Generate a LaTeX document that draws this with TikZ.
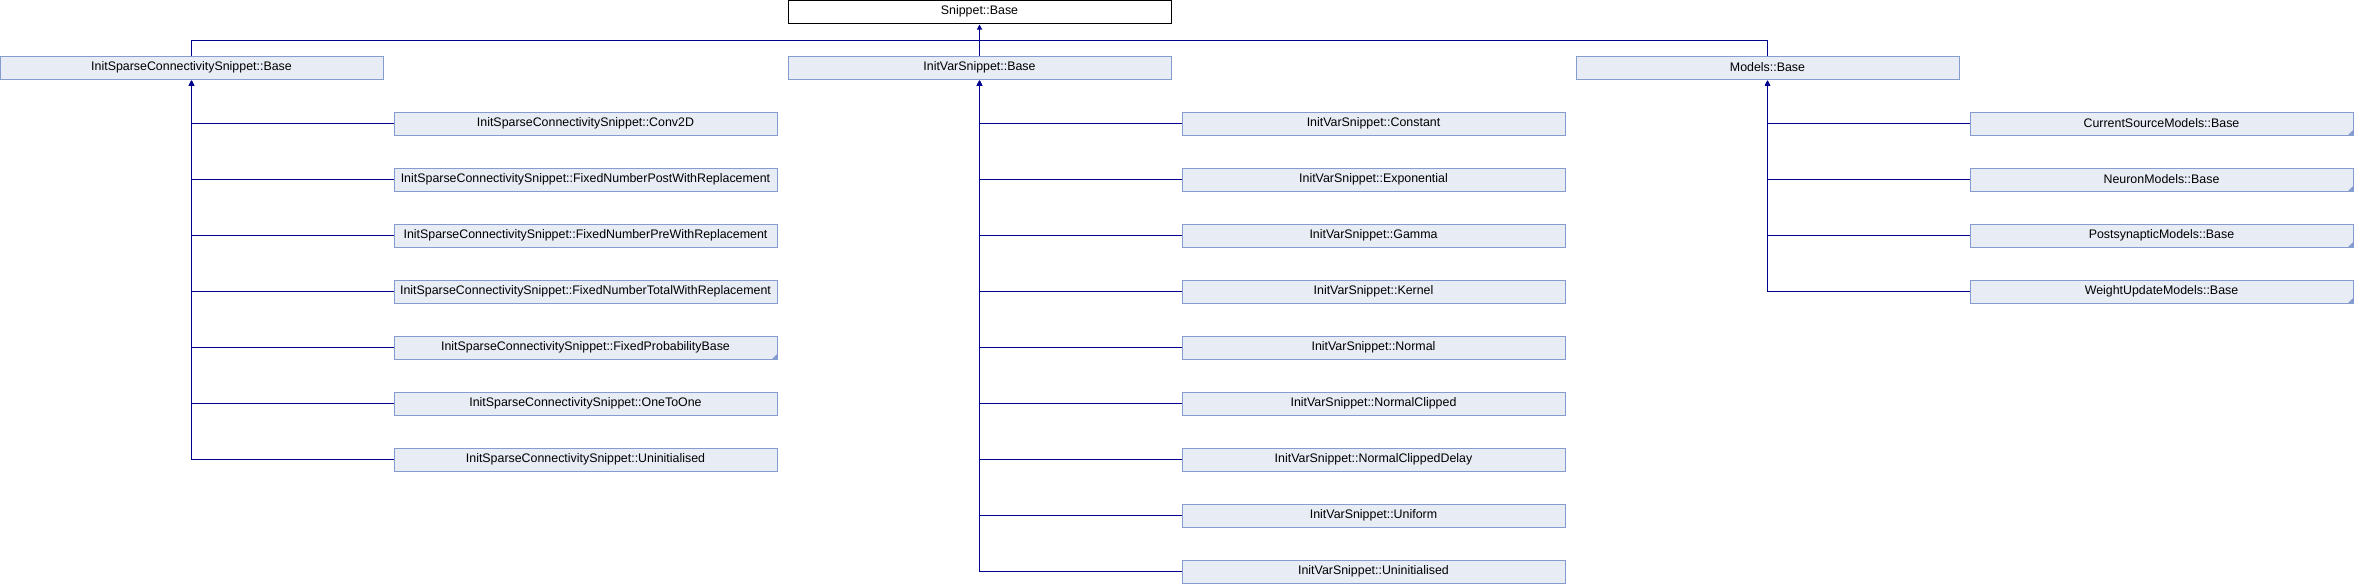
\documentclass[tikz,border=0pt]{standalone}
\usepackage{fontspec}
\setmainfont{Liberation Sans}
\usetikzlibrary{arrows.meta}

\begin{document}
\begin{tikzpicture}[x=1pt, y=-1pt]
    \definecolor{boxfill}{RGB}{232,236,244}
\definecolor{boxborder}{RGB}{132,156,208}
\definecolor{link}{RGB}{0,0,140}

\newcommand\boxwidth{383}
\newcommand\boxheight{23}

\tikzset{
    class/.style={
        draw=boxborder, fill=boxfill, line width=1pt,
        rectangle, inner sep=0pt,
        minimum width=\boxwidth pt,
        minimum height=\boxheight pt,
        font=\fontsize{12.4}{14}\selectfont,
    },
    root/.style={class, draw=black, fill=white},
    wire/.style={link, line width=1pt},
    inherit/.style={
        wire,
        -{Triangle[length=5pt, width=5pt]},
        shorten >=1pt,
    },
    more/.style={fill=boxborder},
}

\useasboundingbox (0, 0) rectangle (2354, 584);

% top of the tree
\node[root] at (979.5, 11.5) (snippet) {Snippet::Base};

\node[class] at (191.5, 67.5) (iscBase) {InitSparseConnectivitySnippet::Base};
\node[class] at (979.5, 67.5) (ivBase) {InitVarSnippet::Base};
\node[class] at (1767.5, 67.5) (modelsBase) {Models::Base};

\coordinate (bar) at (979.5, 40);

\draw[wire] (iscBase.north) |- (bar);
\draw[wire] (modelsBase.north) |- (bar);
\draw[inherit] (ivBase.north) -- (snippet.south);

% InitSparseConnectivitySnippet
\node[class] at (585.5, 123.5) (iscConv) {InitSparseConnectivitySnippet::Conv2D};
\node[class] at (585.5, 179.5) (iscPost) {InitSparseConnectivitySnippet::FixedNumberPostWithReplacement};
\node[class] at (585.5, 235.5) (iscPre) {InitSparseConnectivitySnippet::FixedNumberPreWithReplacement};
\node[class] at (585.5, 291.5) (iscTotal) {InitSparseConnectivitySnippet::FixedNumberTotalWithReplacement};
\node[class] at (585.5, 347.5) (iscProb) {InitSparseConnectivitySnippet::FixedProbabilityBase};
\node[class] at (585.5, 403.5) (iscOne) {InitSparseConnectivitySnippet::OneToOne};
\node[class] at (585.5, 459.5) (iscUninit) {InitSparseConnectivitySnippet::Uninitialised};

\draw[inherit] (iscConv.west) -| (iscBase.south);
\draw[inherit] (iscPost.west) -| (iscBase.south);
\draw[inherit] (iscPre.west) -| (iscBase.south);
\draw[inherit] (iscTotal.west) -| (iscBase.south);
\draw[inherit] (iscProb.west) -| (iscBase.south);
\draw[inherit] (iscOne.west) -| (iscBase.south);
\draw[inherit] (iscUninit.west) -| (iscBase.south);

% InitVarSnippet
\node[class] at (1373.5, 123.5) (ivConst) {InitVarSnippet::Constant};
\node[class] at (1373.5, 179.5) (ivExp) {InitVarSnippet::Exponential};
\node[class] at (1373.5, 235.5) (ivGamma) {InitVarSnippet::Gamma};
\node[class] at (1373.5, 291.5) (ivKernel) {InitVarSnippet::Kernel};
\node[class] at (1373.5, 347.5) (ivNormal) {InitVarSnippet::Normal};
\node[class] at (1373.5, 403.5) (ivClipped) {InitVarSnippet::NormalClipped};
\node[class] at (1373.5, 459.5) (ivDelay) {InitVarSnippet::NormalClippedDelay};
\node[class] at (1373.5, 515.5) (ivUniform) {InitVarSnippet::Uniform};
\node[class] at (1373.5, 571.5) (ivUninit) {InitVarSnippet::Uninitialised};

\draw[inherit] (ivConst.west) -| (ivBase.south);
\draw[inherit] (ivExp.west) -| (ivBase.south);
\draw[inherit] (ivGamma.west) -| (ivBase.south);
\draw[inherit] (ivKernel.west) -| (ivBase.south);
\draw[inherit] (ivNormal.west) -| (ivBase.south);
\draw[inherit] (ivClipped.west) -| (ivBase.south);
\draw[inherit] (ivDelay.west) -| (ivBase.south);
\draw[inherit] (ivUniform.west) -| (ivBase.south);
\draw[inherit] (ivUninit.west) -| (ivBase.south);

% Models
\node[class] at (2161.5, 123.5) (csModels) {CurrentSourceModels::Base};
\node[class] at (2161.5, 179.5) (neuronModels) {NeuronModels::Base};
\node[class] at (2161.5, 235.5) (psModels) {PostsynapticModels::Base};
\node[class] at (2161.5, 291.5) (wuModels) {WeightUpdateModels::Base};

\draw[inherit] (csModels.west) -| (modelsBase.south);
\draw[inherit] (neuronModels.west) -| (modelsBase.south);
\draw[inherit] (psModels.west) -| (modelsBase.south);
\draw[inherit] (wuModels.west) -| (modelsBase.south);

% corner marks for classes with further children
\fill[more] (iscProb.south east) -- ++(-6, 0) -- ++(6, -6) -- cycle;
\fill[more] (csModels.south east) -- ++(-6, 0) -- ++(6, -6) -- cycle;
\fill[more] (neuronModels.south east) -- ++(-6, 0) -- ++(6, -6) -- cycle;
\fill[more] (psModels.south east) -- ++(-6, 0) -- ++(6, -6) -- cycle;
\fill[more] (wuModels.south east) -- ++(-6, 0) -- ++(6, -6) -- cycle;
\end{tikzpicture}
\end{document}
